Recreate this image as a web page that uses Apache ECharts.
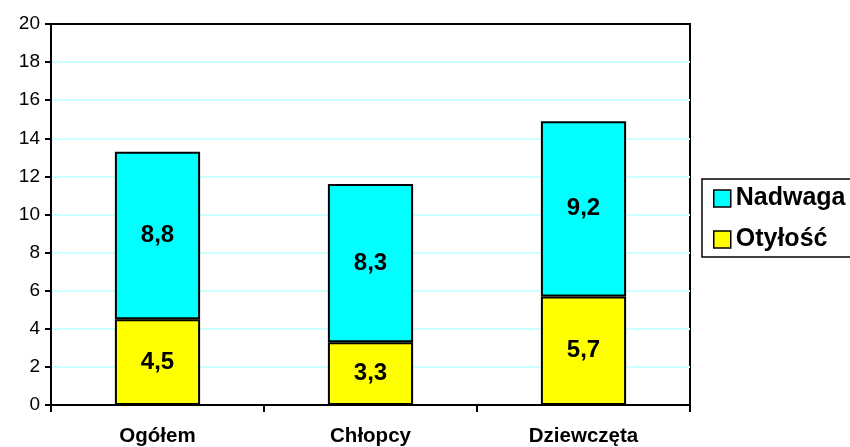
<!DOCTYPE html>
<html>
<head>
<meta charset="utf-8">
<script src="https://cdn.jsdelivr.net/npm/echarts@6/dist/echarts.min.js"></script>
<style>
  html, body { margin: 0; padding: 0; background: #fff; }
  #chart { width: 850px; height: 447px; }
</style>
</head>
<body>
<div id="chart"></div>
<script>
// dane z wykresu
var categories = ['Ogółem', 'Chłopcy', 'Dziewczęta'];
var otylosc = [4.5, 3.3, 5.7];
var nadwaga = [8.8, 8.3, 9.2];
var yTicks = [0, 2, 4, 6, 8, 10, 12, 14, 16, 18, 20];

var font = 'Arial, "Liberation Sans", sans-serif';

var chart = echarts.init(document.getElementById('chart'));

function labelFmt(p) {
  return String(p.value).replace('.', ',');
}

chart.setOption({
  animation: false,
  grid: {
    left: 51,
    top: 24,
    right: 160,
    bottom: 42,
    show: true,
    borderColor: '#000',
    borderWidth: 2,
    backgroundColor: '#fff'
  },
  legend: {
    data: ['Nadwaga', 'Otyłość'],
    orient: 'vertical',
    left: 702,
    top: 179,
    padding: [7, 30, 5, 11],
    itemGap: 16,
    itemWidth: 17,
    itemHeight: 17,
    icon: 'rect',
    borderColor: '#000',
    borderWidth: 1.5,
    itemStyle: { borderColor: '#000', borderWidth: 1.5 },
    textStyle: { fontFamily: font, fontSize: 25, fontWeight: 'bold', color: '#000', padding: [0, 0, 0, 0] }
  },
  xAxis: {
    type: 'category',
    data: categories,
    axisLine: { lineStyle: { color: '#000', width: 2 } },
    axisTick: { show: true, length: 7, lineStyle: { color: '#000', width: 2 } },
    axisLabel: { fontFamily: font, fontSize: 20.5, fontWeight: 'bold', color: '#000', margin: 21 }
  },
  yAxis: {
    type: 'value',
    min: yTicks[0],
    max: yTicks[yTicks.length - 1],
    interval: 2,
    axisLine: { show: true, lineStyle: { color: '#000', width: 2 } },
    axisTick: { show: true, length: 6, lineStyle: { color: '#000', width: 2 } },
    axisLabel: { fontFamily: font, fontSize: 19, color: '#000', margin: 11 },
    splitLine: { show: true, showMinLine: false, showMaxLine: false, lineStyle: { color: '#ccffff', width: 2 } }
  },
  series: [
    {
      name: 'Otyłość',
      type: 'bar',
      stack: 'a',
      data: otylosc,
      barWidth: '40%',
      itemStyle: { color: '#ffff00', borderColor: '#000', borderWidth: 2 },
      label: { show: true, formatter: labelFmt, fontFamily: font, fontSize: 24, fontWeight: 'bold', color: '#000' }
    },
    {
      name: 'Nadwaga',
      type: 'bar',
      stack: 'a',
      data: nadwaga,
      barWidth: '40%',
      itemStyle: { color: '#00ffff', borderColor: '#000', borderWidth: 2 },
      label: { show: true, formatter: labelFmt, fontFamily: font, fontSize: 24, fontWeight: 'bold', color: '#000' }
    }
  ]
});
</script>
</body>
</html>
